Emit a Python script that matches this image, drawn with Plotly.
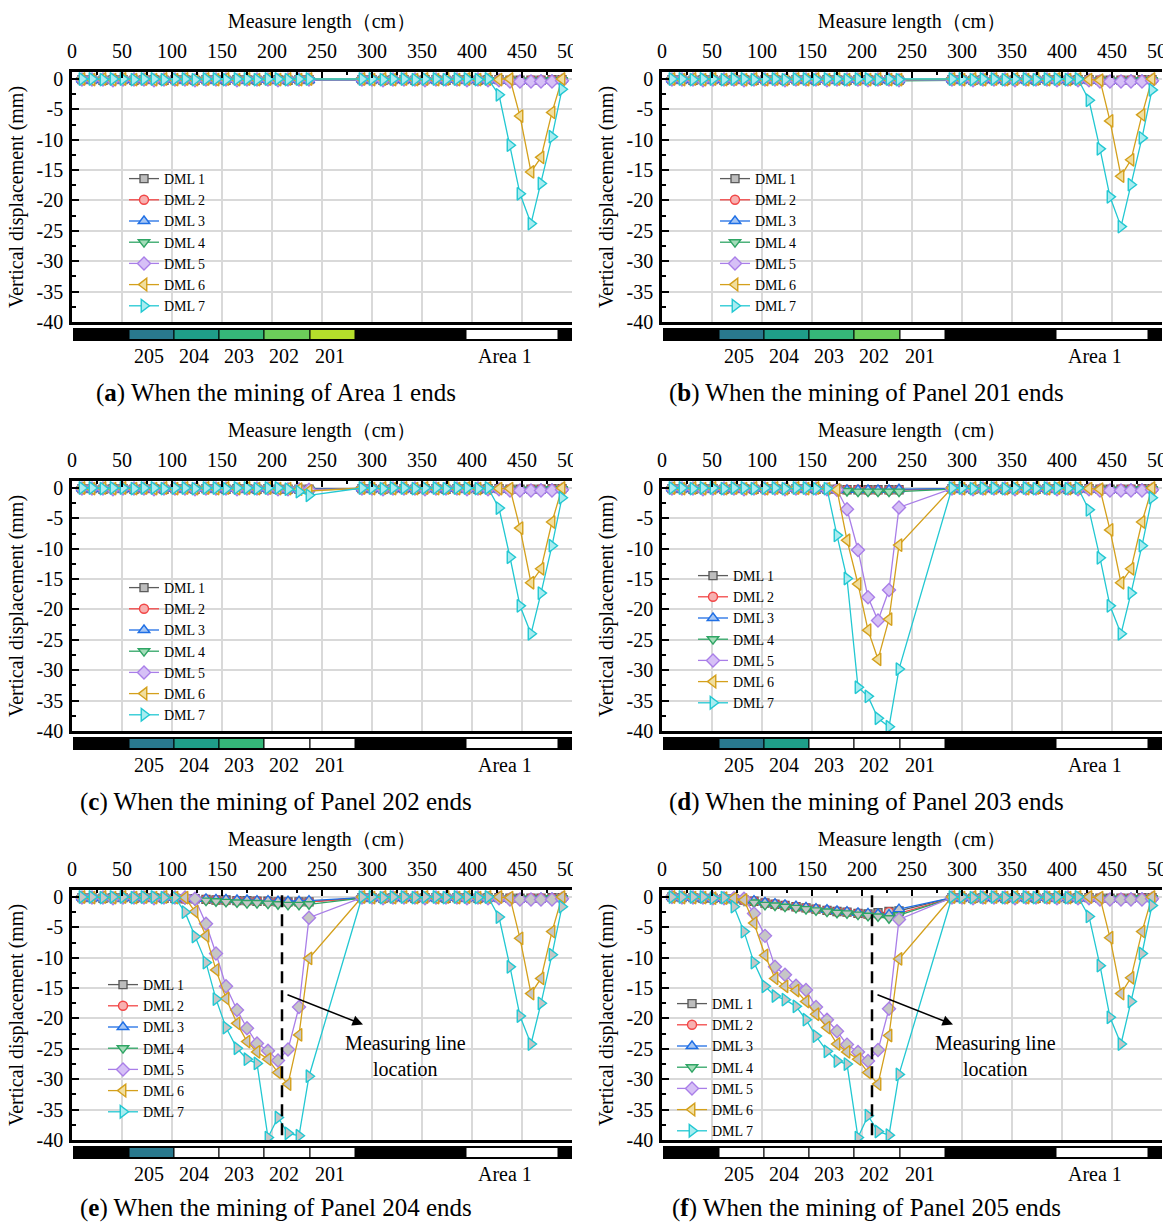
import plotly.graph_objects as go

# ---------------- data ----------------
measure_x = [10, 20, 31, 41, 51, 62, 72, 82, 92, 103, 113, 123, 134, 144, 154, 165, 175, 185, 196, 206, 216, 227, 237,
             290, 300, 311, 321, 332, 343, 353, 364, 374, 385, 395, 406, 416, 427, 438, 448, 459, 469, 480, 490]

dml_names = ["DML 1", "DML 2", "DML 3", "DML 4", "DML 5", "DML 6", "DML 7"]

y_tick_vals = [0, -5, -10, -15, -20, -25, -30, -35, -40]
y_tick_labels = ["0", "-5", "-10", "-15", "-20", "-25", "-30", "-35", "-40"]

# (a) When the mining of Area 1 ends
a_dml1 = [-0.1,-0.1,-0.2,-0.1,-0.1,-0.2,-0.1,-0.1,-0.2,-0.1,-0.1,-0.2,-0.1,-0.1,-0.2,-0.1,-0.1,-0.2,-0.1,-0.1,-0.2,-0.1,-0.1,
          -0.1,-0.1,-0.2,-0.1,-0.1,-0.2,-0.1,-0.1,-0.2,-0.1,-0.1,-0.2,-0.1,-0.1,-0.2,-0.2,-0.2,-0.2,-0.1,-0.1]
a_dml2 = [-0.2,-0.1,-0.1,-0.2,-0.1,-0.1,-0.2,-0.1,-0.1,-0.2,-0.1,-0.1,-0.2,-0.1,-0.1,-0.2,-0.1,-0.1,-0.2,-0.1,-0.1,-0.2,-0.1,
          -0.2,-0.1,-0.1,-0.2,-0.1,-0.1,-0.2,-0.1,-0.1,-0.2,-0.1,-0.1,-0.2,-0.2,-0.2,-0.3,-0.2,-0.2,-0.2,-0.1]
a_dml3 = [-0.1,-0.2,-0.1,-0.1,-0.2,-0.1,-0.1,-0.2,-0.1,-0.1,-0.2,-0.1,-0.1,-0.2,-0.1,-0.1,-0.2,-0.1,-0.1,-0.2,-0.1,-0.1,-0.2,
          -0.1,-0.2,-0.1,-0.1,-0.2,-0.1,-0.1,-0.2,-0.1,-0.1,-0.2,-0.1,-0.2,-0.2,-0.3,-0.3,-0.3,-0.2,-0.2,-0.1]
a_dml4 = [-0.2,-0.2,-0.1,-0.2,-0.2,-0.1,-0.2,-0.2,-0.1,-0.2,-0.2,-0.1,-0.2,-0.2,-0.1,-0.2,-0.2,-0.1,-0.2,-0.2,-0.1,-0.2,-0.2,
          -0.2,-0.2,-0.1,-0.2,-0.2,-0.1,-0.2,-0.2,-0.1,-0.2,-0.2,-0.1,-0.2,-0.3,-0.3,-0.3,-0.3,-0.3,-0.2,-0.2]
a_dml5 = [-0.1,-0.1,-0.1,-0.2,-0.1,-0.1,-0.1,-0.2,-0.1,-0.1,-0.1,-0.2,-0.1,-0.1,-0.1,-0.2,-0.1,-0.1,-0.1,-0.2,-0.1,-0.1,-0.1,
          -0.1,-0.1,-0.2,-0.1,-0.1,-0.1,-0.2,-0.1,-0.1,-0.1,-0.2,-0.1,-0.2,-0.2,-0.4,-0.4,-0.4,-0.4,-0.4,-0.3]
a_dml6 = [0.0,-0.1,0.0,-0.1,0.0,-0.1,0.0,-0.1,0.0,-0.1,0.0,-0.1,0.0,-0.1,0.0,-0.1,0.0,-0.1,0.0,-0.1,0.0,-0.1,0.0,
          0.0,-0.1,0.0,-0.1,0.0,-0.1,0.0,-0.1,0.0,-0.1,0.0,-0.1,0.0,-0.1,0.0,-6.1,-15.3,-12.9,-5.5,0.0]
a_dml7 = [0.0,0.0,-0.1,0.0,0.0,-0.1,0.0,0.0,-0.1,0.0,0.0,-0.1,0.0,0.0,-0.1,0.0,0.0,-0.1,0.0,0.0,-0.1,0.0,0.0,
          0.0,0.0,-0.1,0.0,0.0,-0.1,0.0,0.0,-0.1,0.0,0.0,-0.1,0.0,-2.6,-10.9,-18.9,-23.8,-17.2,-9.5,-1.7]

# (b) When the mining of Panel 201 ends
b_dml1 = [-0.1,-0.1,-0.2,-0.1,-0.1,-0.2,-0.1,-0.1,-0.2,-0.1,-0.1,-0.2,-0.1,-0.1,-0.2,-0.1,-0.1,-0.2,-0.1,-0.1,-0.2,-0.1,-0.2,
          -0.1,-0.1,-0.2,-0.1,-0.1,-0.2,-0.1,-0.1,-0.2,-0.1,-0.1,-0.2,-0.1,-0.1,-0.2,-0.2,-0.2,-0.2,-0.1,-0.1]
b_dml2 = [-0.2,-0.1,-0.1,-0.2,-0.1,-0.1,-0.2,-0.1,-0.1,-0.2,-0.1,-0.1,-0.2,-0.1,-0.1,-0.2,-0.1,-0.1,-0.2,-0.1,-0.1,-0.2,-0.2,
          -0.2,-0.1,-0.1,-0.2,-0.1,-0.1,-0.2,-0.1,-0.1,-0.2,-0.1,-0.1,-0.2,-0.2,-0.2,-0.3,-0.2,-0.2,-0.2,-0.1]
b_dml3 = [-0.1,-0.2,-0.1,-0.1,-0.2,-0.1,-0.1,-0.2,-0.1,-0.1,-0.2,-0.1,-0.1,-0.2,-0.1,-0.1,-0.2,-0.1,-0.1,-0.2,-0.1,-0.2,-0.2,
          -0.1,-0.2,-0.1,-0.1,-0.2,-0.1,-0.1,-0.2,-0.1,-0.1,-0.2,-0.1,-0.2,-0.2,-0.3,-0.3,-0.3,-0.2,-0.2,-0.1]
b_dml4 = [-0.2,-0.2,-0.1,-0.2,-0.2,-0.1,-0.2,-0.2,-0.1,-0.2,-0.2,-0.1,-0.2,-0.2,-0.1,-0.2,-0.2,-0.1,-0.2,-0.2,-0.2,-0.2,-0.3,
          -0.2,-0.2,-0.1,-0.2,-0.2,-0.1,-0.2,-0.2,-0.1,-0.2,-0.2,-0.1,-0.2,-0.3,-0.3,-0.3,-0.3,-0.3,-0.2,-0.2]
b_dml5 = [-0.1,-0.1,-0.1,-0.2,-0.1,-0.1,-0.1,-0.2,-0.1,-0.1,-0.1,-0.2,-0.1,-0.1,-0.1,-0.2,-0.1,-0.1,-0.1,-0.2,-0.1,-0.1,-0.2,
          -0.1,-0.1,-0.2,-0.1,-0.1,-0.1,-0.2,-0.1,-0.1,-0.1,-0.2,-0.1,-0.2,-0.2,-0.4,-0.4,-0.4,-0.4,-0.4,-0.3]
b_dml6 = [0.0,-0.1,0.0,-0.1,0.0,-0.1,0.0,-0.1,0.0,-0.1,0.0,-0.1,0.0,-0.1,0.0,-0.1,0.0,-0.1,0.0,-0.1,0.0,-0.1,-0.1,
          0.0,-0.1,0.0,-0.1,0.0,-0.1,0.0,-0.1,0.0,-0.1,0.0,-0.1,0.0,-0.1,-0.2,-6.9,-16.0,-13.3,-5.9,0.0]
b_dml7 = [0.0,0.0,-0.1,0.0,0.0,-0.1,0.0,0.0,-0.1,0.0,0.0,-0.1,0.0,0.0,-0.1,0.0,0.0,-0.1,0.0,0.0,-0.1,0.0,-0.1,
          0.0,0.0,-0.1,0.0,0.0,-0.1,0.0,0.0,-0.1,0.0,0.0,-0.1,0.0,-3.5,-11.5,-19.4,-24.3,-17.4,-9.7,-1.8]

# (c) When the mining of Panel 202 ends
c_dml1 = [-0.1,-0.1,-0.2,-0.1,-0.1,-0.2,-0.1,-0.1,-0.2,-0.1,-0.1,-0.2,-0.1,-0.1,-0.2,-0.1,-0.1,-0.2,-0.1,-0.2,-0.2,-0.2,-0.2,
          -0.1,-0.1,-0.2,-0.1,-0.1,-0.2,-0.1,-0.1,-0.2,-0.1,-0.1,-0.2,-0.1,-0.1,-0.2,-0.2,-0.2,-0.2,-0.1,-0.1]
c_dml2 = [-0.2,-0.1,-0.1,-0.2,-0.1,-0.1,-0.2,-0.1,-0.1,-0.2,-0.1,-0.1,-0.2,-0.1,-0.1,-0.2,-0.1,-0.1,-0.2,-0.2,-0.2,-0.2,-0.2,
          -0.2,-0.1,-0.1,-0.2,-0.1,-0.1,-0.2,-0.1,-0.1,-0.2,-0.1,-0.1,-0.2,-0.2,-0.2,-0.3,-0.2,-0.2,-0.2,-0.1]
c_dml3 = [-0.1,-0.2,-0.1,-0.1,-0.2,-0.1,-0.1,-0.2,-0.1,-0.1,-0.2,-0.1,-0.1,-0.2,-0.1,-0.1,-0.2,-0.1,-0.1,-0.2,-0.2,-0.2,-0.2,
          -0.1,-0.2,-0.1,-0.1,-0.2,-0.1,-0.1,-0.2,-0.1,-0.1,-0.2,-0.1,-0.2,-0.2,-0.3,-0.3,-0.3,-0.2,-0.2,-0.1]
c_dml4 = [-0.2,-0.2,-0.1,-0.2,-0.2,-0.1,-0.2,-0.2,-0.1,-0.2,-0.2,-0.1,-0.2,-0.2,-0.1,-0.2,-0.2,-0.1,-0.2,-0.2,-0.3,-0.3,-0.3,
          -0.2,-0.2,-0.1,-0.2,-0.2,-0.1,-0.2,-0.2,-0.1,-0.2,-0.2,-0.1,-0.2,-0.3,-0.3,-0.3,-0.3,-0.3,-0.2,-0.2]
c_dml5 = [-0.1,-0.1,-0.1,-0.2,-0.1,-0.1,-0.1,-0.2,-0.1,-0.1,-0.1,-0.2,-0.1,-0.1,-0.1,-0.2,-0.1,-0.1,-0.1,-0.2,-0.2,-0.2,-0.3,
          -0.1,-0.1,-0.2,-0.1,-0.1,-0.1,-0.2,-0.1,-0.1,-0.1,-0.2,-0.1,-0.2,-0.2,-0.4,-0.4,-0.4,-0.4,-0.4,-0.3]
c_dml6 = [0.0,-0.1,0.0,-0.1,0.0,-0.1,0.0,-0.1,0.0,-0.1,0.0,-0.1,0.0,-0.1,0.0,-0.1,0.0,-0.1,0.0,-0.1,-0.1,-0.2,-0.5,
          0.0,-0.1,0.0,-0.1,0.0,-0.1,0.0,-0.1,0.0,-0.1,0.0,-0.1,0.0,-0.1,-0.1,-6.6,-15.6,-13.3,-5.6,0.0]
c_dml7 = [0.0,0.0,-0.1,0.0,0.0,-0.1,0.0,0.0,-0.1,0.0,0.0,-0.1,0.0,0.0,-0.1,0.0,0.0,-0.1,0.0,0.0,-0.2,-0.6,-1.2,
          0.0,0.0,-0.1,0.0,0.0,-0.1,0.0,0.0,-0.1,0.0,0.0,-0.1,0.0,-3.3,-11.4,-19.4,-24.0,-17.3,-9.5,-1.6]

# (d) When the mining of Panel 203 ends
d_dml1 = [-0.1,-0.1,-0.2,-0.1,-0.1,-0.2,-0.1,-0.1,-0.2,-0.1,-0.1,-0.2,-0.1,-0.1,-0.2,-0.2,-0.2,-0.3,-0.3,-0.3,-0.3,-0.3,-0.3,
          -0.1,-0.1,-0.2,-0.1,-0.1,-0.2,-0.1,-0.1,-0.2,-0.1,-0.1,-0.2,-0.1,-0.1,-0.2,-0.2,-0.2,-0.2,-0.1,-0.1]
d_dml2 = [-0.2,-0.1,-0.1,-0.2,-0.1,-0.1,-0.2,-0.1,-0.1,-0.2,-0.1,-0.1,-0.2,-0.1,-0.1,-0.2,-0.2,-0.3,-0.3,-0.4,-0.4,-0.4,-0.3,
          -0.2,-0.1,-0.1,-0.2,-0.1,-0.1,-0.2,-0.1,-0.1,-0.2,-0.1,-0.1,-0.2,-0.2,-0.2,-0.3,-0.2,-0.2,-0.2,-0.1]
d_dml3 = [-0.1,-0.2,-0.1,-0.1,-0.2,-0.1,-0.1,-0.2,-0.1,-0.1,-0.2,-0.1,-0.1,-0.2,-0.1,-0.2,-0.2,-0.3,-0.3,-0.3,-0.3,-0.3,-0.2,
          -0.1,-0.2,-0.1,-0.1,-0.2,-0.1,-0.1,-0.2,-0.1,-0.1,-0.2,-0.1,-0.2,-0.2,-0.3,-0.3,-0.3,-0.2,-0.2,-0.1]
d_dml4 = [-0.2,-0.2,-0.1,-0.2,-0.2,-0.1,-0.2,-0.2,-0.1,-0.2,-0.2,-0.1,-0.2,-0.2,-0.2,-0.3,-0.4,-0.5,-0.6,-0.6,-0.6,-0.6,-0.6,
          -0.2,-0.2,-0.1,-0.2,-0.2,-0.1,-0.2,-0.2,-0.1,-0.2,-0.2,-0.1,-0.2,-0.3,-0.3,-0.3,-0.3,-0.3,-0.2,-0.2]
d_dml5 = [-0.1,-0.1,-0.1,-0.2,-0.1,-0.1,-0.1,-0.2,-0.1,-0.1,-0.1,-0.2,-0.1,-0.1,-0.1,-0.2,-0.3,-3.5,-10.2,-18.0,-21.8,-16.8,-3.2,
          -0.1,-0.1,-0.2,-0.1,-0.1,-0.1,-0.2,-0.1,-0.1,-0.1,-0.2,-0.1,-0.2,-0.2,-0.4,-0.4,-0.4,-0.4,-0.4,-0.3]
d_dml6 = [0.0,-0.1,0.0,-0.1,0.0,-0.1,0.0,-0.1,0.0,-0.1,0.0,-0.1,0.0,-0.1,0.0,-0.1,-0.3,-8.6,-15.8,-23.4,-28.2,-21.6,-9.4,
          0.0,-0.1,0.0,-0.1,0.0,-0.1,0.0,-0.1,0.0,-0.1,0.0,-0.1,0.0,-0.1,-0.2,-6.9,-15.6,-13.3,-5.6,0.0]
d_dml7 = [0.0,0.0,-0.1,0.0,0.0,-0.1,0.0,0.0,-0.1,0.0,0.0,-0.1,0.0,0.0,-0.1,-0.1,-7.8,-14.9,-32.8,-34.3,-37.9,-39.3,-29.8,
          0.0,0.0,-0.1,0.0,0.0,-0.1,0.0,0.0,-0.1,0.0,0.0,-0.1,0.0,-3.6,-11.5,-19.4,-24.0,-17.3,-9.5,-1.6]

# (e) When the mining of Panel 204 ends
e_dml1 = [-0.1,-0.1,-0.2,-0.1,-0.1,-0.2,-0.1,-0.1,-0.2,-0.2,-0.3,-0.3,-0.4,-0.5,-0.5,-0.6,-0.6,-0.7,-0.7,-0.8,-0.8,-0.8,-0.8,
          -0.1,-0.1,-0.2,-0.1,-0.1,-0.2,-0.1,-0.1,-0.2,-0.1,-0.1,-0.2,-0.1,-0.1,-0.2,-0.2,-0.2,-0.2,-0.1,-0.1]
e_dml2 = [-0.2,-0.1,-0.1,-0.2,-0.1,-0.1,-0.2,-0.1,-0.1,-0.2,-0.3,-0.3,-0.4,-0.5,-0.6,-0.6,-0.7,-0.7,-0.8,-0.8,-0.9,-0.9,-0.8,
          -0.2,-0.1,-0.1,-0.2,-0.1,-0.1,-0.2,-0.1,-0.1,-0.2,-0.1,-0.1,-0.2,-0.2,-0.2,-0.3,-0.2,-0.2,-0.2,-0.1]
e_dml3 = [-0.1,-0.2,-0.1,-0.1,-0.2,-0.1,-0.1,-0.2,-0.1,-0.1,-0.2,-0.3,-0.3,-0.4,-0.4,-0.5,-0.5,-0.6,-0.6,-0.7,-0.7,-0.7,-0.6,
          -0.1,-0.2,-0.1,-0.1,-0.2,-0.1,-0.1,-0.2,-0.1,-0.1,-0.2,-0.1,-0.2,-0.2,-0.3,-0.3,-0.3,-0.2,-0.2,-0.1]
e_dml4 = [-0.2,-0.2,-0.1,-0.2,-0.2,-0.1,-0.2,-0.2,-0.1,-0.2,-0.3,-0.5,-0.6,-0.7,-0.8,-0.9,-1.0,-1.0,-1.1,-1.2,-1.3,-1.3,-1.2,
          -0.2,-0.2,-0.1,-0.2,-0.2,-0.1,-0.2,-0.2,-0.1,-0.2,-0.2,-0.1,-0.2,-0.3,-0.3,-0.3,-0.3,-0.3,-0.2,-0.2]
e_dml5 = [-0.1,-0.1,-0.1,-0.2,-0.1,-0.1,-0.1,-0.2,-0.1,-0.1,-0.1,-0.3,-4.4,-9.3,-14.7,-18.6,-21.6,-24.1,-25.3,-26.9,-25.1,-18.1,-3.4,
          -0.1,-0.1,-0.2,-0.1,-0.1,-0.1,-0.2,-0.1,-0.1,-0.1,-0.2,-0.1,-0.2,-0.2,-0.4,-0.4,-0.4,-0.4,-0.4,-0.3]
e_dml6 = [0.0,-0.1,0.0,-0.1,0.0,-0.1,0.0,-0.1,0.0,-0.1,-0.1,-2.4,-6.4,-12.0,-16.7,-20.8,-23.8,-25.5,-26.7,-28.9,-30.8,-22.7,-10.1,
          0.0,-0.1,0.0,-0.1,0.0,-0.1,0.0,-0.1,0.0,-0.1,0.0,-0.1,0.0,0.0,-0.1,-6.8,-15.9,-13.4,-5.7,0.0]
e_dml7 = [0.0,0.0,-0.1,0.0,0.0,-0.1,0.0,0.0,-0.1,-0.1,-2.5,-6.5,-10.8,-16.8,-21.5,-24.9,-26.7,-27.4,-39.6,-36.3,-38.9,-39.3,-29.5,
          0.0,0.0,-0.1,0.0,0.0,-0.1,0.0,0.0,-0.1,0.0,0.0,-0.1,0.0,-3.3,-11.5,-19.6,-24.2,-17.5,-9.5,-1.6]

# (f) When the mining of Panel 205 ends
f_dml1 = [0.0,-0.1,-0.1,-0.2,-0.2,-0.3,-0.3,-0.5,-0.7,-1.0,-1.2,-1.4,-1.6,-1.8,-2.0,-2.2,-2.4,-2.5,-2.7,-2.8,-2.6,-2.4,-2.3,
          -0.1,-0.1,-0.2,-0.1,-0.1,-0.2,-0.1,-0.1,-0.2,-0.1,-0.1,-0.2,-0.1,-0.1,-0.2,-0.2,-0.2,-0.2,-0.1,-0.1]
f_dml2 = [0.0,-0.1,-0.1,-0.2,-0.2,-0.3,-0.3,-0.5,-0.7,-1.0,-1.2,-1.4,-1.6,-1.8,-2.0,-2.2,-2.4,-2.5,-2.7,-2.9,-2.9,-2.5,-2.7,
          -0.2,-0.1,-0.1,-0.2,-0.1,-0.1,-0.2,-0.1,-0.1,-0.2,-0.1,-0.1,-0.2,-0.2,-0.2,-0.3,-0.2,-0.2,-0.2,-0.1]
f_dml3 = [0.0,-0.1,-0.1,-0.2,-0.2,-0.3,-0.3,-0.4,-0.6,-0.9,-1.1,-1.3,-1.5,-1.7,-1.9,-2.1,-2.3,-2.4,-2.6,-2.7,-2.8,-2.9,-2.0,
          -0.1,-0.2,-0.1,-0.1,-0.2,-0.1,-0.1,-0.2,-0.1,-0.1,-0.2,-0.1,-0.2,-0.2,-0.3,-0.3,-0.3,-0.2,-0.2,-0.1]
f_dml4 = [-0.1,-0.1,-0.2,-0.2,-0.3,-0.3,-0.4,-0.6,-0.9,-1.3,-1.4,-1.6,-1.8,-2.0,-2.2,-2.4,-2.6,-2.7,-2.9,-3.1,-3.2,-3.5,-3.0,
          -0.2,-0.2,-0.1,-0.2,-0.2,-0.1,-0.2,-0.2,-0.1,-0.2,-0.2,-0.1,-0.2,-0.3,-0.3,-0.3,-0.3,-0.3,-0.2,-0.2]
f_dml5 = [0.0,-0.1,-0.1,-0.1,-0.2,-0.2,-0.2,-0.3,-2.7,-6.4,-11.5,-12.8,-14.6,-15.3,-18.1,-20.2,-22.1,-24.3,-25.5,-27.0,-25.2,-18.4,-3.7,
          -0.1,-0.1,-0.2,-0.1,-0.1,-0.1,-0.2,-0.1,-0.1,-0.1,-0.2,-0.1,-0.2,-0.2,-0.4,-0.4,-0.4,-0.4,-0.4,-0.3]
f_dml6 = [0.0,-0.1,-0.1,-0.1,-0.2,-0.2,-0.2,-0.5,-4.3,-9.6,-13.4,-14.7,-15.4,-17.2,-19.3,-21.5,-24.2,-25.5,-26.7,-28.9,-30.8,-22.8,-10.2,
          0.0,-0.1,0.0,-0.1,0.0,-0.1,0.0,-0.1,0.0,-0.1,0.0,-0.1,0.0,0.0,-0.1,-6.7,-15.9,-13.3,-5.7,0.0]
f_dml7 = [0.0,0.0,0.0,0.0,-0.2,-0.1,-1.6,-5.7,-10.8,-14.7,-16.3,-16.9,-18.0,-20.2,-22.9,-25.4,-27.0,-27.5,-39.6,-36.0,-38.6,-39.2,-29.2,
          0.0,0.0,-0.1,0.0,0.0,-0.1,0.0,0.0,-0.1,0.0,0.0,-0.1,0.0,-3.2,-11.3,-19.8,-24.2,-17.2,-9.3,-1.4]

caption_letters = ["a", "b", "c", "d", "e", "f"]
caption_texts = ["When the mining of Area 1 ends", "When the mining of Panel 201 ends",
                 "When the mining of Panel 202 ends", "When the mining of Panel 203 ends",
                 "When the mining of Panel 204 ends", "When the mining of Panel 205 ends"]
mined_count = [0, 1, 2, 3, 4, 5]          # panels of Area 2 already mined

panel_names = ["205", "204", "203", "202", "201"]
panel_start = [57, 102, 147, 192, 238]
panel_end = [102, 147, 192, 238, 283]
area1_start, area1_end = 394, 486
strip_start, strip_end = 1, 503
measuring_line_x = 210

# ---------------- styles ----------------
series_values = [
    [a_dml1, a_dml2, a_dml3, a_dml4, a_dml5, a_dml6, a_dml7],
    [b_dml1, b_dml2, b_dml3, b_dml4, b_dml5, b_dml6, b_dml7],
    [c_dml1, c_dml2, c_dml3, c_dml4, c_dml5, c_dml6, c_dml7],
    [d_dml1, d_dml2, d_dml3, d_dml4, d_dml5, d_dml6, d_dml7],
    [e_dml1, e_dml2, e_dml3, e_dml4, e_dml5, e_dml6, e_dml7],
    [f_dml1, f_dml2, f_dml3, f_dml4, f_dml5, f_dml6, f_dml7],
]
dml_symbols = ["square", "circle", "triangle-up", "triangle-down", "diamond", "triangle-left", "triangle-right"]
dml_sizes = [8, 9, 10, 10, 10, 11, 11]
dml_colors = ["#5c5c5c", "#f24646", "#1f6fe5", "#2fa565", "#a97ee8", "#d4a01c", "#22c8d2"]
dml_fills = ["#bdbdbd", "#f7b0b0", "#a6c6f4", "#a4dcb9", "#d6c0f6", "#f1de9e", "#a8ecf0"]
gray_fill = "#c6c6c6"
panel_colors = ["#29798e", "#1f9e89", "#35b779", "#6ccd5a", "#b5de2b"]

FONT = "Liberation Serif, Times New Roman, serif"
W, H = 1168, 1223
col_px = [72, 662]
row_px = [72, 481, 890]
caption_off = [321, 321, 318]
PW, PH = 500, 250
legend_px = [(124, 163), (715, 163), (124, 572), (693, 560), (103, 969), (672, 988)]


def px_x(p):
    return p / W


def px_y(p):
    return 1 - p / H


fig = go.Figure()
layout = dict(width=W, height=H, margin=dict(l=0, r=0, t=0, b=0, autoexpand=False),
              paper_bgcolor="white", plot_bgcolor="white",
              font=dict(family=FONT, color="black"))
shapes, annotations = [], []

for i in range(6):
    r, c = divmod(i, 2)
    n = i + 1
    xa, ya = f"x{n}", f"y{n}"
    xl = "xaxis" if n == 1 else f"xaxis{n}"
    yl = "yaxis" if n == 1 else f"yaxis{n}"
    x0p, y0p = col_px[c], row_px[r]
    layout[xl] = dict(domain=[px_x(x0p), px_x(x0p + PW)], anchor=ya, side="top", automargin=False,
                      range=[0, 500], tick0=0, dtick=50, ticks="inside", ticklen=6, tickwidth=2,
                      tickcolor="black", showline=True, linewidth=2.5, linecolor="black", mirror=True,
                      showgrid=True, gridcolor="#d9d9d9", gridwidth=1.5, zeroline=False,
                      tickfont=dict(size=20, family=FONT), ticklabelstandoff=3, ticklabeloverflow="allow",
                      minor=dict(dtick=25, ticks="inside", ticklen=3, tickwidth=1.5, tickcolor="black", showgrid=False),
                      title=dict(text="Measure length（cm）", font=dict(size=20, family=FONT), standoff=7))
    layout[yl] = dict(domain=[px_y(y0p + PH), px_y(y0p)], anchor=xa, automargin=False,
                      range=[-40, 1.15], tickmode="array", tickvals=y_tick_vals, ticktext=y_tick_labels,
                      ticks="inside", ticklen=7, tickwidth=2,
                      tickcolor="black", showline=True, linewidth=2.5, linecolor="black", mirror=False,
                      showgrid=True, gridcolor="#d9d9d9", gridwidth=1.5, zeroline=False,
                      tickfont=dict(size=20, family=FONT), ticklabelstandoff=2,
                      minor=dict(dtick=2.5, tick0=0, ticks="inside", ticklen=4, tickwidth=1.5, tickcolor="black", showgrid=False),
                      title=dict(text="Vertical displacement (mm)", font=dict(size=20, family=FONT), standoff=8))

    fill_list = [gray_fill] * 7 if i >= 4 else dml_fills
    for k in range(7):
        fig.add_trace(go.Scatter(
            x=measure_x, y=series_values[i][k], mode="lines+markers", name=dml_names[k],
            xaxis=xa, yaxis=ya, showlegend=False,
            line=dict(color=dml_colors[k], width=1.3),
            marker=dict(symbol=dml_symbols[k], size=dml_sizes[k], color=fill_list[k],
                        line=dict(color=dml_colors[k], width=1.4))))
    leg = "legend" if n == 1 else f"legend{n}"
    for k in range(7):
        fig.add_trace(go.Scatter(
            x=[None], y=[None], mode="lines+markers", name=dml_names[k],
            xaxis=xa, yaxis=ya, showlegend=True, legend=leg,
            line=dict(color=dml_colors[k], width=1.3),
            marker=dict(symbol=dml_symbols[k], size=dml_sizes[k], color=dml_fills[k],
                        line=dict(color=dml_colors[k], width=1.4))))
    lx, ly = legend_px[i]
    layout[leg] = dict(x=px_x(lx), y=px_y(ly), xanchor="left", yanchor="top",
                       bgcolor="rgba(0,0,0,0)", borderwidth=0, tracegroupgap=0,
                       font=dict(size=14, family=FONT, color="black"))

    # strip of mining panels below each chart
    sy0, sy1 = px_y(y0p + 269), px_y(y0p + 256)
    shapes.append(dict(type="rect", xref=xa, yref="paper", x0=strip_start, x1=strip_end, y0=sy0, y1=sy1,
                       fillcolor="black", line=dict(width=0), layer="above"))
    for j, name in enumerate(panel_names):
        mined = int(name) < 201 + mined_count[i]
        shapes.append(dict(type="rect", xref=xa, yref="paper", x0=panel_start[j], x1=panel_end[j],
                           y0=sy0 + 0.0012, y1=sy1 - 0.0012,
                           fillcolor="white" if mined else panel_colors[j],
                           line=dict(color="black", width=1), layer="above"))
        annotations.append(dict(text=name, xref=xa, yref="paper", x=(panel_start[j] + panel_end[j]) / 2 - 3,
                                y=px_y(y0p + 284), showarrow=False, xanchor="center", yanchor="middle",
                                font=dict(size=20, family=FONT)))
    shapes.append(dict(type="rect", xref=xa, yref="paper", x0=area1_start, x1=area1_end,
                       y0=sy0 + 0.0012, y1=sy1 - 0.0012, fillcolor="white",
                       line=dict(color="black", width=1), layer="above"))
    annotations.append(dict(text="Area 1", xref=xa, yref="paper", x=(area1_start + area1_end) / 2 - 7,
                            y=px_y(y0p + 284), showarrow=False, xanchor="center", yanchor="middle",
                            font=dict(size=20, family=FONT)))
    # caption
    annotations.append(dict(text=f"(<b>{caption_letters[i]}</b>) {caption_texts[i]}", xref="paper", yref="paper",
                            x=px_x(x0p + 204), y=px_y(y0p + caption_off[r]), showarrow=False,
                            xanchor="center", yanchor="middle", font=dict(size=25, family=FONT)))
    # crop of the "500" tick label like the original figure
    shapes.append(dict(type="rect", xref="paper", yref="paper", x0=px_x(x0p + PW + 1), x1=px_x(x0p + PW + 18),
                       y0=px_y(y0p - 8), y1=px_y(y0p - 36), fillcolor="white", line=dict(width=0), layer="above"))

    if i >= 4:
        shapes.append(dict(type="line", xref=xa, yref=ya, x0=measuring_line_x, x1=measuring_line_x,
                           y0=0.3, y1=-40, line=dict(color="black", width=2.5, dash="12px,7px")))
        annotations.append(dict(text="", xref=xa, yref=ya, x=291, y=-21, axref=xa, ayref=ya,
                                ax=214, ay=-16, showarrow=True, arrowhead=2, arrowsize=1.4,
                                arrowwidth=1.5, arrowcolor="black"))
        annotations.append(dict(text="Measuring line<br>location", xref=xa, yref=ya, x=333, y=-26.2,
                                showarrow=False, xanchor="center", yanchor="middle",
                                font=dict(size=20, family=FONT)))

layout["shapes"] = shapes
layout["annotations"] = annotations
fig.update_layout(**layout)
fig.write_html("out.html")
